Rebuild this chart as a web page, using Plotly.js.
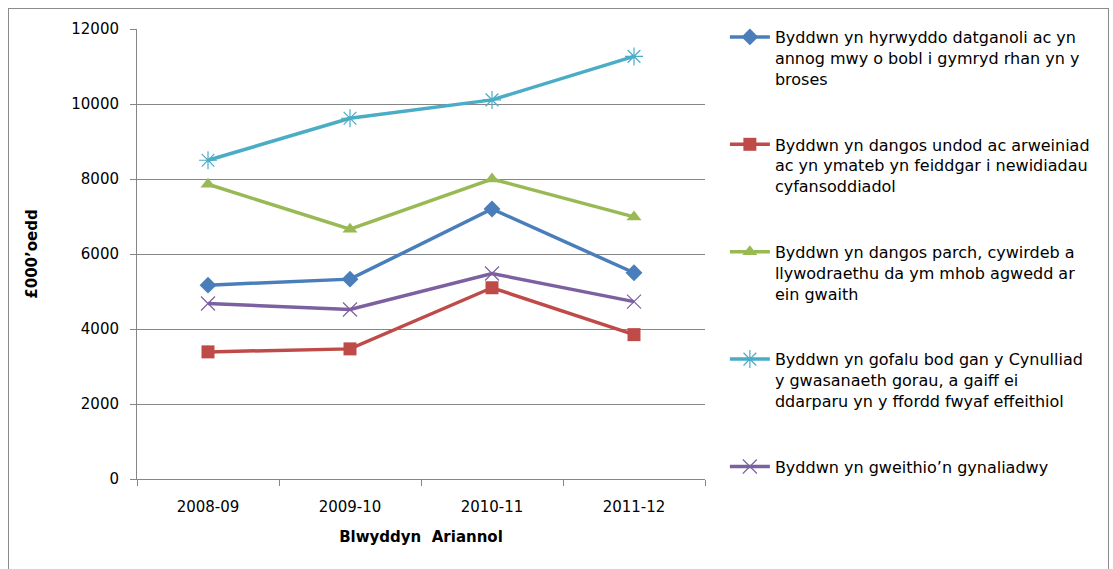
<!DOCTYPE html>
<html>
<head>
<meta charset="utf-8">
<script src="https://cdn.plot.ly/plotly-3.0.1.min.js"></script>
<style>
html,body{margin:0;padding:0;background:#fff;overflow:hidden;}
#frame{position:absolute;left:8px;top:8px;width:1101px;height:600px;border:1px solid #8c8c8c;box-sizing:border-box;}
#chart{position:absolute;left:0;top:0;width:1113px;height:569px;}
</style>
</head>
<body>
<div id="frame"></div>
<div id="chart"></div>
<script>
const categories = ["2008-09", "2009-10", "2010-11", "2011-12"];
const seriesNames = [
  "Byddwn yn hyrwyddo datganoli ac yn<br>annog mwy o bobl i gymryd rhan yn y<br>broses",
  "Byddwn yn dangos undod ac arweiniad<br>ac yn ymateb yn feiddgar i newidiadau<br>cyfansoddiadol",
  "Byddwn yn dangos parch, cywirdeb a<br>llywodraethu da ym mhob agwedd ar<br>ein gwaith",
  "Byddwn yn gofalu bod gan y Cynulliad<br>y gwasanaeth gorau, a gaiff ei<br>ddarparu yn y ffordd fwyaf effeithiol",
  "Byddwn yn gweithio’n gynaliadwy"
];
const datganoli = [5170, 5330, 7200, 5500];
const undod = [3390, 3470, 5100, 3850];
const parch = [7860, 6660, 8000, 6990];
const gofalu = [8500, 9620, 10110, 11270];
const cynaliadwy = [4680, 4520, 5480, 4730];
const yTicks = [0, 2000, 4000, 6000, 8000, 10000, 12000];
const yTickText = ["0", "2000", "4000", "6000", "8000", "10000", "12000"];

const colors = ["#4A7EBB", "#BE4B48", "#98B954", "#4BACC6", "#7D60A0"];
const symbols = ["diamond", "square", "triangle-up", "asterisk-open", "x-thin-open"];
const sizes = [13, 13, 13, 15, 14];
const values = [datganoli, undod, parch, gofalu, cynaliadwy];

const traces = values.map((v, i) => ({
  type: "scatter",
  mode: "lines+markers",
  x: categories,
  y: v,
  name: seriesNames[i],
  legendgroup: "g" + i,
  line: {color: colors[i], width: 3.5},
  marker: {symbol: symbols[i], size: sizes[i], color: colors[i],
           line: {color: colors[i], width: (i >= 3 ? 1.2 : 0)}}
}));

const font = "'DejaVu Sans', sans-serif";
const layout = {
  width: 1113, height: 569,
  margin: {l: 137, r: 408, t: 29, b: 90},
  paper_bgcolor: "rgba(0,0,0,0)",
  plot_bgcolor: "#fff",
  showlegend: true,
  font: {family: font, size: 15, color: "#000"},
  xaxis: {
    type: "category",
    range: [-0.5, 3.5],
    tickson: "boundaries",
    ticks: "outside", ticklen: 6, tickcolor: "#868686",
    showline: true, linecolor: "#868686", linewidth: 1,
    showgrid: false,
    ticklabelstandoff: 14,
    tickfont: {family: font, size: 15},
    title: {text: "<b>Blwyddyn  Ariannol</b>", font: {family: font, size: 15}, standoff: 16}
  },
  yaxis: {
    range: [0, 12000],
    tickvals: yTicks,
    ticktext: yTickText,
    ticks: "outside", ticklen: 6, tickcolor: "#868686",
    showline: true, linecolor: "#868686", linewidth: 1,
    showgrid: true, gridcolor: "#868686", gridwidth: 1,
    zeroline: false,
    ticklabelstandoff: 8,
    tickfont: {family: font, size: 15},
    title: {text: "<b>£000’oedd</b>", font: {family: font, size: 15}, standoff: 30}
  },
  legend: {
    x: 1.035, xanchor: "left", y: 1.02, yanchor: "top",
    font: {family: font, size: 16, color: "#000"},
    tracegroupgap: 42,
    itemwidth: 40,
    valign: "top",
    maxheight: 560,
    bgcolor: "rgba(0,0,0,0)"
  }
};

Plotly.newPlot("chart", traces, layout, {displayModeBar: false, staticPlot: true});
</script>
</body>
</html>
